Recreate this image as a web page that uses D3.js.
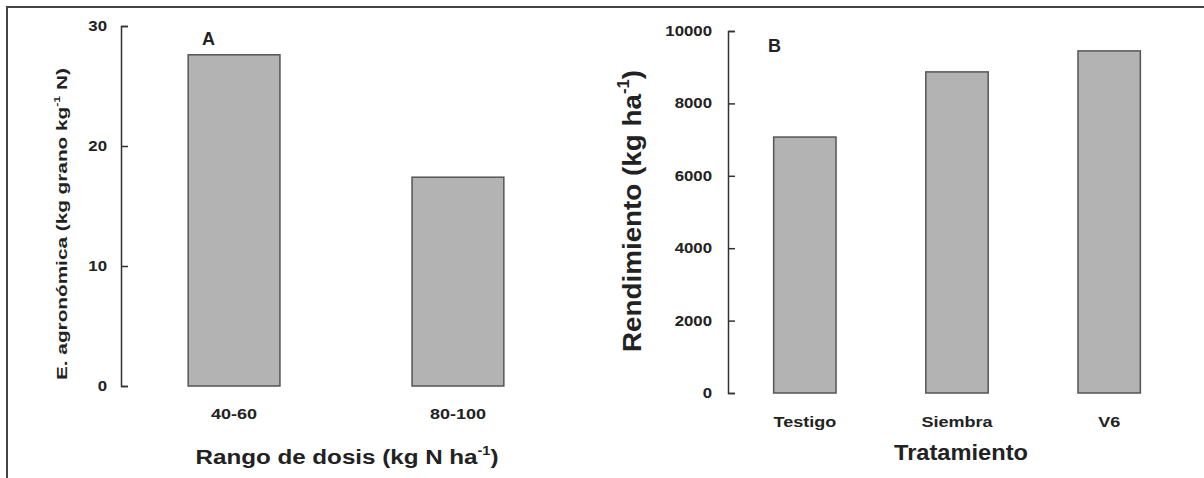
<!DOCTYPE html>
<html>
<head>
<meta charset="utf-8">
<script src="https://cdn.jsdelivr.net/npm/d3@7"></script>
<style>
  html,body{margin:0;padding:0;background:#fff;}
  svg{display:block;font-family:"Liberation Sans",Arial,sans-serif;}
  .axis path,.axis line{stroke:#333;stroke-width:1.5;}
  .axis text{fill:#222;font-weight:bold;font-size:14px;}
</style>
</head>
<body>
<div id="chart"></div>
<script>
// panel A: eficiencia agronómica por rango de dosis
const catsA = ["40-60", "80-100"];
const valsA = [27.6, 17.4];
const ticksA = [0, 10, 20, 30];

// panel B: rendimiento por tratamiento
const catsB = ["Testigo", "Siembra", "V6"];
const valsB = [7070, 8870, 9450];
const ticksB = [0, 2000, 4000, 6000, 8000, 10000];

const W = 1204, H = 478, SX = 1.2;

const svg = d3.select("#chart").append("svg").attr("width", W).attr("height", H);

// outer frame (left + top only)
svg.append("path").attr("d", "M7,478V7H1204").attr("fill", "none").attr("stroke", "#444").attr("stroke-width", 2);

// widen text horizontally like the scanned figure
function stretch(sel, f) {
  sel.each(function() {
    const w = this.getComputedTextLength();
    d3.select(this).attr("textLength", w * (f || SX)).attr("lengthAdjust", "spacingAndGlyphs");
  });
}

function panel(o) {
  const x = d3.scaleBand().domain(o.cats).range(o.xr).paddingInner(0.59).paddingOuter(0.3);
  const y = d3.scaleLinear().domain(o.dom).range(o.yr);

  const ax = svg.append("g").attr("class", "axis").attr("transform", `translate(${o.xr[0]},0)`)
    .call(d3.axisLeft(y).tickValues(o.ticks).tickFormat(d3.format("d"))
      .tickSizeInner(-7).tickSizeOuter(-7).tickPadding(o.pad));
  ax.selectAll("text").call(stretch);

  svg.append("g").selectAll("rect").data(o.vals).join("rect")
    .attr("x", (_, i) => x(o.cats[i])).attr("width", x.bandwidth())
    .attr("y", d => y(d)).attr("height", d => y(0) - y(d))
    .attr("fill", "#b3b3b3").attr("stroke", "#555").attr("stroke-width", 1.5);

  svg.append("g").selectAll("text").data(o.cats).join("text")
    .attr("x", d => x(d) + x.bandwidth() / 2).attr("y", y(0) + o.lblDy)
    .attr("text-anchor", "middle").attr("fill", "#222").attr("font-weight", "bold").attr("font-size", 15)
    .text(d => d)
    .call(stretch);

  // panel letter
  svg.append("text").attr("x", o.letter[0]).attr("y", o.letter[1])
    .attr("fill", "#222").attr("font-weight", "bold").attr("font-size", 18).text(o.name);
  return { x, y };
}

panel({ name: "A", cats: catsA, vals: valsA, ticks: ticksA, dom: [0, 30], xr: [121, 571], yr: [386, 26], pad: 14, lblDy: 33, letter: [202, 45] });
panel({ name: "B", cats: catsB, vals: valsB, ticks: ticksB, dom: [0, 10000], xr: [728, 1186], yr: [393, 31], pad: 16, lblDy: 34, letter: [768, 52] });

// axis titles
function title(x, y, rot, size, len, parts) {
  const t = svg.append("text").attr("transform", `translate(${x},${y}) rotate(${rot})`)
    .attr("text-anchor", "middle").attr("fill", "#222").attr("font-weight", "bold").attr("font-size", size)
    .attr("textLength", len).attr("lengthAdjust", "spacingAndGlyphs");
  parts.forEach(p => {
    const s = t.append("tspan").text(p.t);
    if (p.sup) s.attr("font-size", size * 0.6).attr("dy", -size * 0.45);
    if (p.back) s.attr("dy", size * 0.45);
  });
}

title(67, 224, -90, 15, 312, [{ t: "E. agronómica (kg grano kg" }, { t: "-1", sup: true }, { t: " N)", back: true }]);
title(347, 464, 0, 20, 303, [{ t: "Rango de dosis (kg N ha" }, { t: "-1", sup: true }, { t: ")", back: true }]);
title(641, 211, -90, 26, 282, [{ t: "Rendimiento (kg ha" }, { t: "-1", sup: true }, { t: ")", back: true }]);
title(961, 460, 0, 22, 134, [{ t: "Tratamiento" }]);
</script>
</body>
</html>
